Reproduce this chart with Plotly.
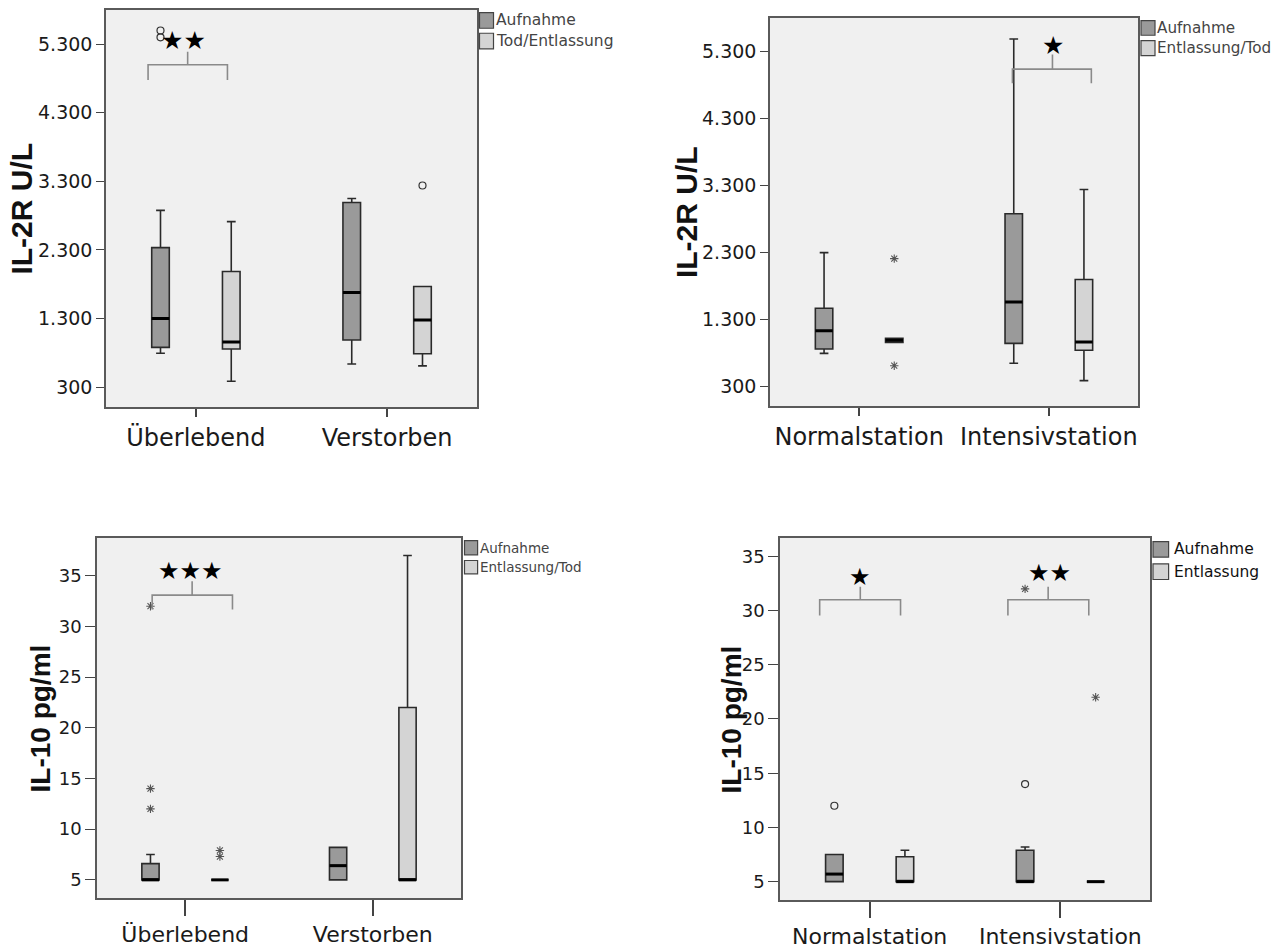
import plotly.graph_objects as go

W, H = 1284, 949

# ---------------- data ----------------
outcome_labels = ["Überlebend", "Verstorben"]
ward_labels = ["Normalstation", "Intensivstation"]

# five-number summaries per category: [lower whisker, Q1, median, Q3, upper whisker]
# IL-2R (U/L) by outcome
il2r_out_adm = [[794, 881, 1300, 2335, 2877], [639, 987, 1681, 2993, 3051]]
il2r_out_dis = [[387, 857, 958, 1986, 2713], [610, 788, 1278, 1768, 1768]]
il2r_out_adm_outl = [[5400, 5500], []]
il2r_out_dis_outl = [[], [3240]]
il2r_out_adm_ext = [[], []]
il2r_out_dis_ext = [[], []]

# IL-2R (U/L) by ward
il2r_ward_adm = [[796, 860, 1132, 1469, 2297], [648, 945, 1563, 2877, 5482]]
il2r_ward_dis = [[960, 960, 990, 1020, 1020], [389, 841, 964, 1896, 3238]]
il2r_ward_adm_outl = [[], []]
il2r_ward_dis_outl = [[], []]
il2r_ward_adm_ext = [[], []]
il2r_ward_dis_ext = [[2208, 612], []]

# IL-10 (pg/ml) by outcome
il10_out_adm = [[5, 5, 5, 6.6, 7.5], [5, 5, 6.4, 8.2, 8.2]]
il10_out_dis = [[5, 5, 5, 5, 5], [5, 5, 5, 22, 37]]
il10_out_adm_outl = [[], []]
il10_out_dis_outl = [[], []]
il10_out_adm_ext = [[32, 14, 12], []]
il10_out_dis_ext = [[7.9, 7.3], []]

# IL-10 (pg/ml) by ward
il10_ward_adm = [[5, 5, 5.7, 7.5, 7.5], [5, 5, 5, 7.9, 8.2]]
il10_ward_dis = [[5, 5, 5, 7.3, 7.9], [5, 5, 5, 5, 5]]
il10_ward_adm_outl = [[12], [14]]
il10_ward_dis_outl = [[], []]
il10_ward_adm_ext = [[], [32]]
il10_ward_dis_ext = [[], [22]]

il2r_ticks = [300, 1300, 2300, 3300, 4300, 5300]
il10_ticks = [5, 10, 15, 20, 25, 30, 35]

# ---------------- styling ----------------
DARK = "#9a9a9a"
LIGHT = "#d4d4d4"
EDGE = "#2a2a2a"
BG = "#f0f0f0"
FRAME = "#5a5a5a"
OFFSET = 0.185
BOX_W = 0.092
TXT_FONT = "DejaVu Sans"
TITLE_FONT = "Liberation Sans, Arial, sans-serif"

fig = go.Figure()


def px_x(p):
    return p / W


def px_y(p):
    return 1 - p / H


def add_series(n, five, outl, ext, side, fill):
    xa = "x" if n == 1 else f"x{n}"
    ya = "y" if n == 1 else f"y{n}"
    pos = [i + side * OFFSET for i in range(len(five))]
    fig.add_trace(go.Box(
        x=pos,
        lowerfence=[f[0] for f in five],
        q1=[f[1] for f in five],
        median=[f[2] for f in five],
        q3=[f[3] for f in five],
        upperfence=[f[4] for f in five],
        width=BOX_W, whiskerwidth=0.5,
        fillcolor=fill, line=dict(color=EDGE, width=1.6),
        boxpoints=False, hoverinfo="skip", showlegend=False,
        xaxis=xa, yaxis=ya,
    ))
    # thick median bars
    mx, my = [], []
    for p, f in zip(pos, five):
        mx += [p - BOX_W / 2, p + BOX_W / 2, None]
        my += [f[2], f[2], None]
    fig.add_trace(go.Scatter(x=mx, y=my, mode="lines",
                             line=dict(color="black", width=3),
                             hoverinfo="skip", showlegend=False,
                             xaxis=xa, yaxis=ya))
    # outliers (o) and extreme values (*)
    ox, oy, ex, ey = [], [], [], []
    for p, o, e in zip(pos, outl, ext):
        ox += [p] * len(o)
        oy += list(o)
        ex += [p] * len(e)
        ey += list(e)
    if ox:
        fig.add_trace(go.Scatter(x=ox, y=oy, mode="markers",
                                 marker=dict(symbol="circle-open", size=7,
                                             color="#333333", line=dict(width=1.2)),
                                 hoverinfo="skip", showlegend=False,
                                 xaxis=xa, yaxis=ya))
    if ex:
        fig.add_trace(go.Scatter(x=ex, y=ey, mode="markers",
                                 marker=dict(symbol="asterisk-open", size=7,
                                             color="#555555", line=dict(width=1.1)),
                                 hoverinfo="skip", showlegend=False,
                                 xaxis=xa, yaxis=ya))


panels = [
    dict(n=1, adm=il2r_out_adm, dis=il2r_out_dis,
         ao=il2r_out_adm_outl, do=il2r_out_dis_outl,
         ae=il2r_out_adm_ext, de=il2r_out_dis_ext,
         cats=outcome_labels, ticks=il2r_ticks, yr=[9, 5799],
         xd=(106, 477), yd=(10, 408), xlen=8, ylen=8, xfs=24, yfs=19),
    dict(n=2, adm=il2r_ward_adm, dis=il2r_ward_dis,
         ao=il2r_ward_adm_outl, do=il2r_ward_dis_outl,
         ae=il2r_ward_adm_ext, de=il2r_ward_dis_ext,
         cats=ward_labels, ticks=il2r_ticks, yr=[9, 5795],
         xd=(770, 1138), yd=(18, 407), xlen=8, ylen=8, xfs=24, yfs=19),
    dict(n=3, adm=il10_out_adm, dis=il10_out_dis,
         ao=il10_out_adm_outl, do=il10_out_dis_outl,
         ae=il10_out_adm_ext, de=il10_out_dis_ext,
         cats=outcome_labels, ticks=il10_ticks, yr=[3.2, 38.74],
         xd=(97, 461), yd=(539, 900), xlen=16, ylen=10, xfs=22, yfs=18),
    dict(n=4, adm=il10_ward_adm, dis=il10_ward_dis,
         ao=il10_ward_adm_outl, do=il10_ward_dis_outl,
         ae=il10_ward_adm_ext, de=il10_ward_dis_ext,
         cats=ward_labels, ticks=il10_ticks, yr=[3.3, 36.7],
         xd=(780, 1150), yd=(539, 902), xlen=16, ylen=10, xfs=22, yfs=18),
]

layout_axes = {}
for p in panels:
    n = p["n"]
    add_series(n, p["adm"], p["ao"], p["ae"], -1, DARK)
    add_series(n, p["dis"], p["do"], p["de"], +1, LIGHT)
    sx = "" if n == 1 else str(n)
    if p["ticks"][0] >= 100:
        ttext = [f"{v:,}".replace(",", ".") for v in p["ticks"]]
    else:
        ttext = [str(v) for v in p["ticks"]]
    layout_axes["xaxis" + sx] = dict(
        domain=[px_x(p["xd"][0]), px_x(p["xd"][1])],
        anchor="y" + sx, range=[-0.47, 1.47],
        tickvals=[0, 1], ticktext=p["cats"],
        ticks="outside", ticklen=p["xlen"], tickwidth=1.5, tickcolor="#444",
        showline=True, mirror=True, linecolor=FRAME, linewidth=1.5,
        showgrid=False, zeroline=False, fixedrange=True,
        tickfont=dict(family=TXT_FONT, size=p["xfs"], color="#1a1a1a"),
    )
    layout_axes["yaxis" + sx] = dict(
        domain=[px_y(p["yd"][1]), px_y(p["yd"][0])],
        anchor="x" + sx, range=p["yr"],
        tickvals=p["ticks"], ticktext=ttext,
        ticks="outside", ticklen=p["ylen"], tickwidth=1.2, tickcolor="#444",
        showline=True, mirror=True, linecolor=FRAME, linewidth=1.5,
        showgrid=False, zeroline=False, fixedrange=True,
        tickfont=dict(family=TXT_FONT, size=p["yfs"], color="#1a1a1a"),
    )

shapes = []
annotations = []


def bracket(n, x0, x1, xc, yh, yend, ytop, stars, sx, sy, size):
    xr = "x" if n == 1 else f"x{n}"
    yr = "y" if n == 1 else f"y{n}"
    shapes.append(dict(
        type="path", xref=xr, yref=yr,
        path=f"M {x0},{yend} L {x0},{yh} L {x1},{yh} L {x1},{yend} "
             f"M {xc},{yh} L {xc},{ytop}",
        line=dict(color="#8a8a8a", width=1.6),
    ))
    annotations.append(dict(
        xref=xr, yref=yr, x=sx, y=sy, text=stars, showarrow=False,
        font=dict(family="DejaVu Sans", size=size, color="black"),
        xanchor="center", yanchor="middle",
    ))


# significance brackets
bracket(1, -0.25, 0.165, -0.043, 5000, 4780, 5190, "★★", -0.065, 5350, 25)
bracket(2, 0.808, 1.224, 1.019, 5033, 4820, 5251, "★", 1.021, 5379, 25)
bracket(3, -0.176, 0.252, 0.037, 33.09, 31.68, 34.47, "★★★", 0.030, 35.45, 24)
bracket(4, -0.262, 0.162, -0.049, 31.0, 29.53, 32.2, "★", -0.049, 33.07, 24)
bracket(4, 0.725, 1.149, 0.936, 31.0, 29.53, 32.2, "★★", 0.941, 33.43, 24)


def legend(sq_x0, sq_x1, rows, text_x, labels, size, color):
    for (y0, y1), lab, fill in zip(rows, labels, [DARK, LIGHT]):
        shapes.append(dict(
            type="rect", xref="paper", yref="paper",
            x0=px_x(sq_x0), x1=px_x(sq_x1), y0=px_y(y1), y1=px_y(y0),
            fillcolor=fill, line=dict(color="#444", width=1.2),
        ))
        annotations.append(dict(
            xref="paper", yref="paper", x=px_x(text_x), y=px_y((y0 + y1) / 2),
            text=lab, showarrow=False, xanchor="left", yanchor="middle",
            font=dict(family=TXT_FONT, size=size, color=color),
        ))


legend(479.5, 493.5, [(12.7, 28.3), (33.3, 49)], 494,
       ["Aufnahme", "Tod/Entlassung"], 15.5, "#444")
legend(1141, 1155, [(20.7, 35.3), (40.7, 55.7)], 1155,
       ["Aufnahme", "Entlassung/Tod"], 15.2, "#444")
legend(464.5, 477.6, [(541.7, 556), (561.7, 575)], 478,
       ["Aufnahme", "Entlassung/Tod"], 13.5, "#444")
legend(1153, 1168.6, [(542.7, 558.3), (565, 580.7)], 1172,
       ["Aufnahme", "Entlassung"], 15.5, "#111")


def ytitle(text, cx, cy, size):
    annotations.append(dict(
        xref="paper", yref="paper", x=px_x(cx), y=px_y(cy), text=f"<b>{text}</b>",
        textangle=-90, showarrow=False, xanchor="center", yanchor="middle",
        font=dict(family=TITLE_FONT, size=size, color="#111"),
    ))


ytitle("IL-2R U/L", 22, 209, 30)
ytitle("IL-2R U/L", 686, 212.5, 30)
ytitle("IL-10 pg/ml", 40, 720, 28)
ytitle("IL-10 pg/ml", 731, 721, 28)

fig.update_layout(
    width=W, height=H,
    margin=dict(l=0, r=0, t=0, b=0),
    paper_bgcolor="white", plot_bgcolor=BG,
    boxmode="overlay", showlegend=False,
    shapes=shapes, annotations=annotations,
    **layout_axes,
)

fig.write_html("out.html")
